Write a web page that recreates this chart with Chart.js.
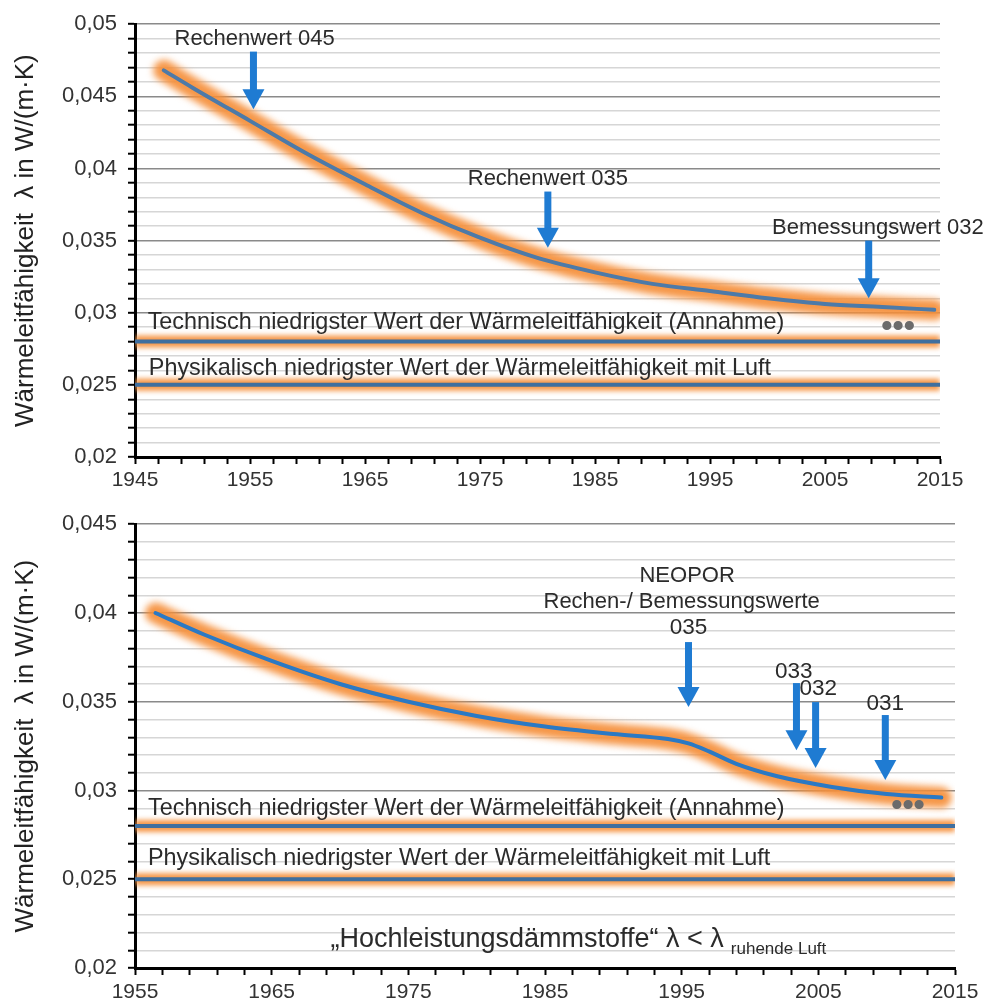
<!DOCTYPE html>
<html lang="de">
<head>
<meta charset="UTF-8">
<title>Wärmeleitfähigkeit</title>
<script src="https://cdn.jsdelivr.net/npm/chart.js"></script>
<style>
  html, body { margin: 0; padding: 0; background: #fff; }
  .box { position: absolute; left: 0; width: 989px; }
  #boxTop { top: 0; height: 500px; }
  #boxBottom { top: 500px; height: 505px; }
</style>
</head>
<body>
<div class="box" id="boxTop"><canvas id="chartTop"></canvas></div>
<div class="box" id="boxBottom"><canvas id="chartBottom"></canvas></div>
<script>
// oberes Diagramm: Jahre und Wärmeleitfähigkeit
const yearsTop = [1947.5, 1950, 1955, 1960, 1965, 1970, 1975, 1980, 1985, 1990, 1995, 2000, 2005, 2010, 2014.5];
const lambdaTop = [0.0468, 0.0456, 0.0433, 0.0410, 0.0389, 0.0369, 0.0352, 0.0338, 0.0328, 0.0320, 0.0315, 0.0310, 0.0306, 0.0304, 0.0302];

// unteres Diagramm: NEOPOR
const yearsBottom = [1956.5, 1960, 1965, 1970, 1975, 1980, 1985, 1990, 1994, 1995.5, 1997, 1999, 2002, 2006, 2010, 2014];
const lambdaBottom = [0.0400, 0.0388, 0.0373, 0.0360, 0.0350, 0.0342, 0.0336, 0.03318, 0.0329, 0.03265, 0.0322, 0.0315, 0.0308, 0.0302, 0.0298, 0.0296];

// Grenzwerte
const lambdaTechnisch = 0.028;
const lambdaLuft = 0.025;

// Achsen
const yMajorTicks = [0.02, 0.025, 0.03, 0.035, 0.04, 0.045, 0.05];
const xRangeTop = [1945, 2015];
const xRangeBottom = [1955, 2015];
const yRangeTop = [0.02, 0.05];
const yRangeBottom = [0.02, 0.045];

const FONT = "'Liberation Sans', Arial, sans-serif";
const BLUE_ARROW = '#1f7bd2';
const GLOW = 'rgba(245,142,56,0.92)';

// Beschriftungen (Datenkoordinaten)
const notesTop = [
  { text: 'Rechenwert 045', x: 1955.4, y: 0.0490, size: 22 },
  { text: 'Rechenwert 035', x: 1980.9, y: 0.0393, size: 22 },
  { text: 'Bemessungswert 032', x: 2009.6, y: 0.0359, size: 22 },
  { text: 'Technisch niedrigster Wert der Wärmeleitfähigkeit (Annahme)', x: 1946.1, y: 0.02933, size: 23.4, align: 'left' },
  { text: 'Physikalisch niedrigster Wert der Wärmeleitfähigkeit mit Luft', x: 1946.2, y: 0.02612, size: 23.4, align: 'left' },
  { text: '•••', x: 2011.35, y: 0.02903, size: 32, color: '#6b6b6b', bold: true }
];
const arrowsTop = [
  { x: 1955.3, from: 0.0481, to: 0.0441 },
  { x: 1980.9, from: 0.0384, to: 0.0345 },
  { x: 2008.8, from: 0.0350, to: 0.0310 }
];
const notesBottom = [
  { text: 'NEOPOR', x: 1995.4, y: 0.04210, size: 22 },
  { text: 'Rechen-/ Bemessungswerte', x: 1995.0, y: 0.04060, size: 22 },
  { text: '035', x: 1995.5, y: 0.03914, size: 22.5 },
  { text: '033', x: 2003.2, y: 0.03670, size: 22.5 },
  { text: '032', x: 2005.0, y: 0.03570, size: 22.5 },
  { text: '031', x: 2009.9, y: 0.03490, size: 22.5 },
  { text: 'Technisch niedrigster Wert der Wärmeleitfähigkeit (Annahme)', x: 1955.95, y: 0.0290, size: 23.4, align: 'left' },
  { text: 'Physikalisch niedrigster Wert der Wärmeleitfähigkeit mit Luft', x: 1955.95, y: 0.02618, size: 23.4, align: 'left' },
  { text: '•••', x: 2011.56, y: 0.02912, size: 32, color: '#6b6b6b', bold: true }
];
const arrowsBottom = [
  { x: 1995.5, from: 0.03836, to: 0.03470 },
  { x: 2003.4, from: 0.03605, to: 0.03227 },
  { x: 2004.8, from: 0.03498, to: 0.03126 },
  { x: 2009.9, from: 0.03425, to: 0.03059 }
];

function pts(xs, ys) { return xs.map((x, i) => ({ x: x, y: ys[i] })); }
function flat(v, range) { return [{ x: range[0], y: v }, { x: range[1], y: v }]; }
function isMajor(v) { return Math.round(v * 1000) % 5 === 0; }

const glowPlugin = {
  id: 'glow',
  beforeDatasetDraw(chart, args) {
    const ds = chart.data.datasets[args.index];
    if (ds.glow) { chart.ctx.save(); chart.ctx.filter = 'blur(' + ds.glow + 'px)'; }
  },
  afterDatasetDraw(chart, args) {
    const ds = chart.data.datasets[args.index];
    if (ds.glow) chart.ctx.restore();
  }
};

const notesPlugin = {
  id: 'notes',
  afterDatasetsDraw(chart, args, opts) {
    const ctx = chart.ctx, xs = chart.scales.x, ys = chart.scales.y;
    ctx.save();
    (opts.arrows || []).forEach(a => {
      const x = xs.getPixelForValue(a.x);
      const y0 = ys.getPixelForValue(a.from), y1 = ys.getPixelForValue(a.to);
      ctx.fillStyle = BLUE_ARROW;
      ctx.fillRect(x - 3.5, y0, 7, y1 - y0 - 18);
      ctx.beginPath();
      ctx.moveTo(x - 11, y1 - 20);
      ctx.lineTo(x + 11, y1 - 20);
      ctx.lineTo(x, y1);
      ctx.closePath();
      ctx.fill();
    });
    (opts.notes || []).forEach(n => {
      ctx.font = (n.bold ? 'bold ' : '') + n.size + 'px ' + FONT;
      ctx.fillStyle = n.color || '#2b2b2b';
      ctx.textAlign = n.align || 'center';
      ctx.textBaseline = 'middle';
      ctx.fillText(n.text, xs.getPixelForValue(n.x), ys.getPixelForValue(n.y));
    });
    if (opts.special) {
      const s = opts.special;
      let x = xs.getPixelForValue(s.x);
      const y = ys.getPixelForValue(s.y);
      ctx.fillStyle = '#2b2b2b';
      ctx.textAlign = 'left';
      ctx.textBaseline = 'middle';
      ctx.font = '27px ' + FONT;
      ctx.fillText(s.text, x, y);
      x += ctx.measureText(s.text).width + 7;
      ctx.font = '17px ' + FONT;
      ctx.fillText(s.sub, x, y + 9);
    }
    ctx.restore();
  }
};

function makeChart(id, cfg) {
  return new Chart(document.getElementById(id), {
    type: 'line',
    data: {
      datasets: [
        { data: pts(cfg.years, cfg.values), borderColor: GLOW, borderWidth: 21, glow: 3.5, order: 2, borderCapStyle: 'round' },
        { data: flat(lambdaTechnisch, cfg.xRange), borderColor: GLOW, borderWidth: 12, glow: 2.5, order: 2 },
        { data: flat(lambdaLuft, cfg.xRange), borderColor: GLOW, borderWidth: 12, glow: 2.5, order: 2 },
        { data: pts(cfg.years, cfg.values), borderColor: cfg.lineColor, borderWidth: 4, order: 1, borderCapStyle: 'round' },
        { data: flat(lambdaTechnisch, cfg.xRange), borderColor: '#3f6f9f', borderWidth: 4, order: 1 },
        { data: flat(lambdaLuft, cfg.xRange), borderColor: '#3f6f9f', borderWidth: 4, order: 1 }
      ]
    },
    options: {
      responsive: true,
      maintainAspectRatio: false,
      animation: false,
      events: [],
      elements: { point: { radius: 0 }, line: { cubicInterpolationMode: 'monotone' } },
      layout: { padding: cfg.padding },
      plugins: {
        legend: { display: false },
        tooltip: { enabled: false },
        notes: { notes: cfg.notes, arrows: cfg.arrows, special: cfg.special }
      },
      scales: {
        x: {
          type: 'linear',
          min: cfg.xRange[0],
          max: cfg.xRange[1],
          afterFit: s => { s.height = cfg.xHeight; },
          border: { color: '#000', width: 3 },
          grid: { drawOnChartArea: false, tickColor: '#000', tickLength: 7, tickWidth: 2 },
          ticks: {
            stepSize: 2,
            autoSkip: false,
            maxRotation: 0,
            maxTicksLimit: 100,
            padding: cfg.xPad,
            color: '#333',
            font: { family: FONT, size: 21 },
            callback: v => ((v - cfg.xRange[0]) % 10 === 0 ? String(v) : '')
          }
        },
        y: {
          min: cfg.yRange[0],
          max: cfg.yRange[1],
          afterFit: s => { s.width = 127; },
          border: { color: '#000', width: 3 },
          grid: {
            color: c => (isMajor(c.tick.value) ? '#8a8a8a' : '#d6d6d6'),
            lineWidth: c => (isMajor(c.tick.value) ? 1.6 : 1.4),
            tickColor: '#000',
            tickLength: 7,
            tickWidth: 2
          },
          ticks: {
            stepSize: 0.001,
            autoSkip: false,
            maxTicksLimit: 100,
            padding: 11,
            color: '#333',
            font: { family: FONT, size: 22 },
            callback: v => {
              const m = yMajorTicks.find(t => Math.abs(t - v) < 1e-6);
              return m === undefined ? '' : String(m).replace('.', ',');
            }
          },
          title: {
            display: true,
            text: 'Wärmeleitfähigkeit  λ in W/(m·K)',
            color: '#222',
            padding: { top: 2, bottom: 2 },
            font: { family: FONT, size: 26 }
          }
        }
      }
    },
    plugins: [glowPlugin, notesPlugin]
  });
}

makeChart('chartTop', {
  years: yearsTop, values: lambdaTop, lineColor: '#4d7aa8',
  xRange: xRangeTop, yRange: yRangeTop,
  padding: { left: 8, top: 22, right: 49, bottom: 0 },
  xHeight: 43, xPad: 4,
  notes: notesTop, arrows: arrowsTop
});

makeChart('chartBottom', {
  years: yearsBottom, values: lambdaBottom, lineColor: '#2b79c4',
  xRange: xRangeBottom, yRange: yRangeBottom,
  padding: { left: 8, top: 24, right: 34, bottom: 0 },
  xHeight: 37, xPad: 5,
  notes: notesBottom, arrows: arrowsBottom,
  special: { text: '„Hochleistungsdämmstoffe“ λ < λ', sub: 'ruhende Luft', x: 1969.3, y: 0.02158 }
});
</script>
</body>
</html>
